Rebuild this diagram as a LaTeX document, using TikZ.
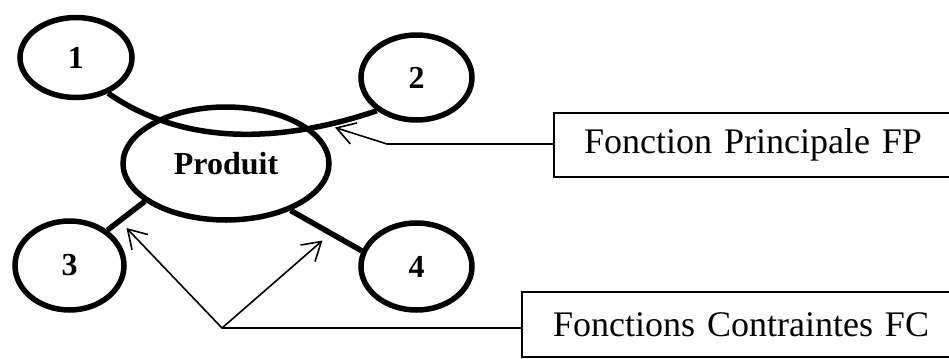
\documentclass[tikz,border=0pt]{standalone}
\usepackage{fontspec}
\setmainfont{Liberation Serif}
\usetikzlibrary{shapes.geometric,arrows.meta,calc}
\begin{document}
\begin{tikzpicture}[x=0.5pt,y=-0.5pt,
  bub/.style={ellipse, draw, line width=2.75pt, inner sep=0pt,
    font=\fontsize{16}{18}\selectfont\bfseries},
  link/.style={line width=2.75pt},
  lbl/.style={draw, line width=1pt, rectangle, anchor=west, align=left,
    font=\fontsize{18}{20}\selectfont},
  call/.style={line width=0.8pt, -{Straight Barb[length=9pt,width=11pt]}}]
\path[use as bounding box, clip] (0,0) rectangle (949,359);
% bubbles
\node[bub, minimum width=56pt, minimum height=40pt] (e1) at (76,57.5) {1};
\node[bub, minimum width=55.5pt, minimum height=42.5pt] (e2) at (416.5,77.5) {2};
\node[bub, minimum width=103pt, minimum height=56.5pt] (P) at (226,163.5) {Produit};
\node[bub, minimum width=54.5pt, minimum height=44.5pt] (e3) at (69.5,265.5) {3};
\node[bub, minimum width=55.5pt, minimum height=43.5pt] (e4) at (416.5,266.5) {4};
% links
\draw[link] (e1.-48) .. controls (190,150) and (290,140) .. (e2.220);
\draw[link] (P.205) -- (e3.43);
\draw[link] (P.-36) -- (e4.164);
% label boxes
\node[lbl, minimum height=32pt, inner xsep=15pt, text width=193.5pt] (fp) at (553,145) {Fonction Principale FP};
\node[lbl, minimum height=32.5pt, inner xsep=15.5pt, text width=208.5pt] (fc) at (521,324.5) {Fonctions Contraintes FC};
% call-outs
\coordinate (fpbend) at (387,144);
\coordinate (fptip) at (335,127.5);
\draw[call] (fpbend -| fp.west) -- (fpbend) -- (fptip);
\coordinate (fcbend) at (222,328);
\coordinate (fctipA) at (126.5,228);
\coordinate (fctipB) at (322.5,240.5);
\draw[call] (fcbend -| fc.west) -- (fcbend) -- (fctipA);
\draw[call] (fcbend) -- (fctipB);
\end{tikzpicture}
\end{document}
